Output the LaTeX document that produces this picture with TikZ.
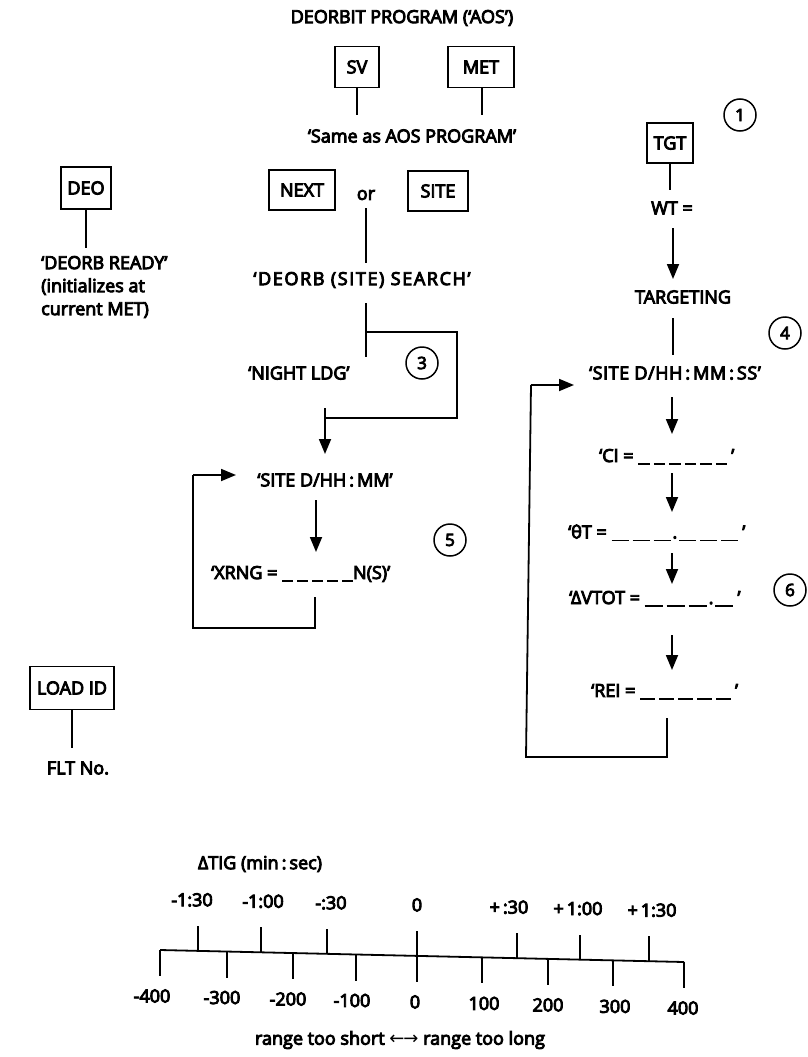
\documentclass[tikz,border=0pt]{standalone}
\usepackage{fontspec}
\setmainfont{Open Sans}[FakeBold=5]
\newfontfamily\arrowfont{DejaVu Sans}
\usetikzlibrary{arrows.meta}
\newcommand\blk[1]{\rule[-3pt]{#1}{1.8pt}\hspace{4pt}}
\begin{document}
\begin{tikzpicture}[x=1pt,y=-1pt,
  font=\fontsize{18}{23}\selectfont,
  box/.style={draw, line width=1.9pt, inner sep=0pt, minimum height=41pt},
  txt/.style={inner sep=1pt},
  ln/.style={line width=1.8pt},
  arr/.style={line width=1.8pt, -{Triangle[length=15pt,width=12pt]}},
  num/.style={draw, circle, line width=1.5pt, minimum size=32pt, inner sep=0pt, font=\fontsize{17}{20}\selectfont}]
\useasboundingbox (0,0) rectangle (807,1057);

% ---------- top ----------
\node[txt] (title) at (402,18) {DEORBIT PROGRAM (‘AOS’)};
\node[box, minimum width=44pt] (sv) at (357,67) {SV};
\node[box, minimum width=66pt] (met) at (481,67) {MET};
\node[txt] (same) at (412,136) {‘Same as AOS PROGRAM’};
\coordinate (sve) at (357,115);
\coordinate (mete) at (482,115);
\draw[ln] (sv.south) -- (sve);
\draw[ln] (met.south -| mete) -- (mete);

% ---------- DEO ----------
\node[box, minimum width=50pt, minimum height=42pt] (deo) at (86,188) {DEO};
\node[txt, align=left, anchor=west] (ready) at (40,287) {‘DEORB READY’\\(initializes at\\current MET)};
\coordinate (deoe) at (86,248);
\draw[ln] (deo.south) -- (deoe);

% ---------- NEXT / SITE ----------
\node[box, minimum width=66pt, minimum height=40pt] (next) at (302,190) {NEXT};
\node (or) at (366,195) {or};
\node[box, minimum width=60pt, minimum height=40pt] (site) at (438,191) {SITE};
\coordinate (ors) at (366,208);
\coordinate (ore) at (366,263);
\draw[ln] (ors) -- (ore);
\node[txt] (search) at (362,280) {\addfontfeature{LetterSpace=9}‘DEORB (SITE) SEARCH’};
\coordinate (s1) at (366,303);
\coordinate (j1) at (366,332);
\coordinate (s2) at (366,357);
\draw[ln] (s1) -- (s2);
\node[txt, anchor=west] (night) at (247,373) {‘NIGHT LDG’};
\node[num] (c3) at (422,363) {3};
\coordinate (k1) at (457,332);
\coordinate (k2) at (457,418);
\coordinate (k3) at (325,418);
\draw[ln] (j1) -- (k1) -- (k2) -- (k3);
\node[txt] (site2) at (325,480) {‘SITE D/HH\,:\,MM’};
\coordinate (k4) at (325,408);
\coordinate (k5) at (325,454);
\draw[arr] (k4) -- (k5);
\coordinate (x1) at (316,500);
\coordinate (x2) at (316,552);
\draw[arr] (x1) -- (x2);
\node[txt, anchor=west] (xrng) at (210,574) {‘XRNG = \blk{11pt}\blk{11pt}\blk{11pt}\blk{11pt}\blk{11pt}\hspace{-4pt}N(S)’};
\node[num] (c5) at (450,540) {5};
\coordinate (l1) at (315,597);
\coordinate (l2) at (315,628);
\coordinate (l3) at (193,628);
\coordinate (l4) at (193,475);
\coordinate (l5) at (236,475);
\draw[ln] (l1) -- (l2) -- (l3) -- (l4);
\draw[arr] (l4) -- (l5);

% ---------- right column ----------
\node[box, minimum width=46pt, minimum height=40pt] (tgt) at (670,143) {TGT};
\node[num] (c1) at (740,115) {1};
\node[txt] (wt) at (672,208) {WT =};
\coordinate (tgte) at (670,190);
\draw[ln] (tgt.south) -- (tgte);
\coordinate (w1) at (673,228);
\coordinate (w2) at (673,279);
\draw[arr] (w1) -- (w2);
\node[txt] (targ) at (683,297) {TARGETING};
\coordinate (t1) at (673,318);
\coordinate (t2) at (673,355);
\draw[ln] (t1) -- (t2);
\node[num] (c4) at (785,333) {4};
\node[txt] (site3) at (675,373) {\addfontfeature{LetterSpace=3}‘SITE D/HH\,:\,MM\,:\,SS’};
\draw[arr] (672,397) -- (672,434);
\node[txt, anchor=west] (ci) at (598,457) {‘CI = \blk{11.5pt}\blk{11.5pt}\blk{11.5pt}\blk{11.5pt}\blk{11.5pt}\blk{11.5pt}’};
\draw[arr] (672,473) -- (672,512);
\node[txt, anchor=west] (theta) at (567,533) {‘θT = \blk{17pt}\blk{17pt}\blk{17pt}\hspace{-2pt}.\hspace{2pt}\blk{17pt}\blk{17pt}\blk{17pt}’};
\draw[arr] (672,553) -- (672,584);
\node[txt, anchor=west] (dv) at (568,599) {‘ΔVTOT = \blk{18pt}\blk{18pt}\blk{18pt}\hspace{-2pt}.\hspace{2pt}\blk{18pt}’};
\node[num] (c6) at (790,590) {6};
\draw[arr] (672,635) -- (672,670);
\node[txt, anchor=west] (rei) at (590,692) {‘REI = \blk{15pt}\blk{15pt}\blk{15pt}\blk{15pt}\blk{15pt}’};
\coordinate (r1) at (667,718);
\coordinate (r2) at (667,757);
\coordinate (r3) at (526,757);
\coordinate (r4) at (531,385);
\coordinate (r5) at (574,385);
\draw[ln] (r1) -- (r2) -- (r3) -- (r4);
\draw[arr] (r4) -- (r5);

% ---------- LOAD ID ----------
\node[box, minimum width=84pt, minimum height=43pt] (load) at (72,688) {LOAD ID};
\coordinate (loade) at (72,748);
\draw[ln] (load.south) -- (loade);
\node (flt) at (78,768) {FLT No.};

% ---------- scale ----------
\node[txt] (dtig) at (260,864) {ΔTIG (min\,:\,sec)};
\coordinate (axl) at (160,950);
\coordinate (axr) at (684,962);
\draw[ln] (axl) -- (axr);
\foreach \x/\dx/\lab in {198/-6/{-1:30}, 261/2/{-1:00}, 327/4/{-:30}, 417/0/{0}, 517/-8/{+\,:30}, 580/-2/{+\,1:00}, 649/3/{+\,1:30}} {
  \pgfmathsetmacro\ya{950+(\x-160)*12/524}
  \draw[ln] (\x,\ya) -- (\x,\ya-25);
  \node at (\x+\dx,\ya-51) {\lab};
}
\foreach \x/\dx/\lab in {160/-8/{-400}, 227/-5/{-300}, 293/-5/{-200}, 356/-4/{-100}, 417/-2/{0}, 482/2/{100}, 548/0/{200}, 613/2/{300}, 684/-1/{400}} {
  \pgfmathsetmacro\ya{950+(\x-160)*12/524}
  \draw[ln] (\x,\ya) -- (\x,\ya+26);
  \node at (\x+\dx,\ya+46) {\lab};
}
\node[txt] (range) at (400,1040) {range too short {\arrowfont ←\kern-1pt→} range too long};
\end{tikzpicture}
\end{document}
